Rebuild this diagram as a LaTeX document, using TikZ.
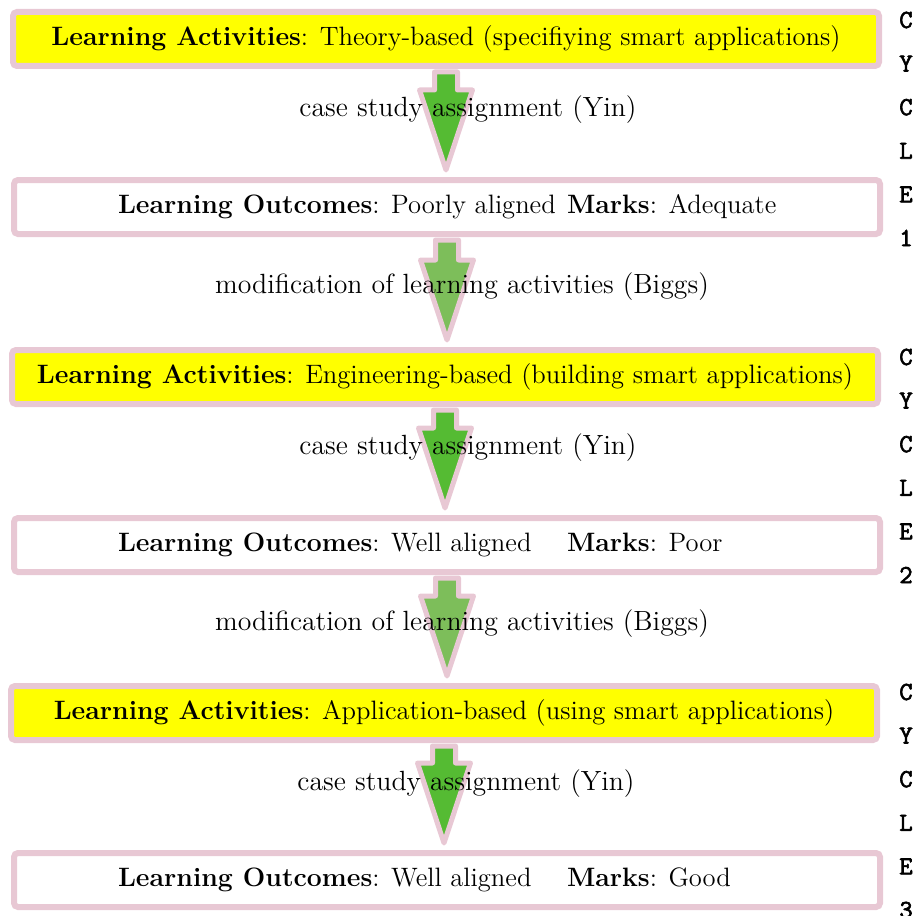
\documentclass[tikz,border=0pt]{standalone}
\usepackage{fontspec}
\newfontfamily\cyclefont{Latin Modern Mono}[FakeBold=2.5]
\usetikzlibrary{calc}

\definecolor{framepink}{RGB}{232,200,212}
\definecolor{boxyellow}{RGB}{255,255,0}
\definecolor{yingreen}{RGB}{85,187,51}
\definecolor{biggsgreen}{RGB}{125,190,90}

\newcommand{\outcomeline}[2]{\makebox[329pt][l]{\makebox[224.5pt][l]{\textbf{Learning Outcomes}: #1}\textbf{Marks}: #2}}

\begin{document}
\begin{tikzpicture}[x=0.5pt, y=-0.5pt,
    every node/.style={font=\fontsize{13.3}{15}\selectfont},
    activity/.style={draw=framepink, fill=boxyellow, line width=3pt, rounded corners=2pt, minimum width=433pt, minimum height=27pt, inner sep=0pt},
    outcome/.style={activity, fill=white},
    steplabel/.style={inner sep=0pt, font=\fontsize{13.9}{15}\selectfont},
    cycleletter/.style={font=\cyclefont\fontsize{13}{13}\selectfont, inner sep=0pt},
    flowarrow/.style={draw=framepink, line width=2.5pt, line join=round, fill=#1,
        to path={let \p1=(\tikztostart), \p2=(\tikztotarget) in
            (\x1-5.75pt,\y1-1.5pt) -- (\x1-5.75pt,\y2+43.5pt) -- (\x1-13.25pt,\y2+43.5pt)
            -- (\x1,\y2+3.5pt) -- (\x1+13.25pt,\y2+43.5pt) -- (\x1+5.75pt,\y2+43.5pt)
            -- (\x1+5.75pt,\y1-1.5pt) -- cycle}}
]
\useasboundingbox (0,0) rectangle (919,915);

% Boxes
\node[activity] (la1) at (446,39) {\textbf{Learning Activities}: Theory-based (specifiying smart applications)};
\node[outcome] (lo1) at (447,207) {\outcomeline{Poorly aligned}{Adequate}};
\node[activity] (la2) at (445,377) {\textbf{Learning Activities}: Engineering-based (building smart applications)};
\node[outcome] (lo2) at (447,545) {\outcomeline{Well aligned}{Poor}};
\node[activity] (la3) at (444,713) {\textbf{Learning Activities}: Application-based (using smart applications)};
\node[outcome] (lo3) at (447,880) {\outcomeline{Well aligned}{Good}};

% Arrows between boxes
\draw[flowarrow=yingreen] (la1.south) to (lo1.north);
\draw[flowarrow=biggsgreen] (lo1.south) to (la2.north);
\draw[flowarrow=yingreen] (la2.south) to (lo2.north);
\draw[flowarrow=biggsgreen] (lo2.south) to (la3.north);
\draw[flowarrow=yingreen] (la3.south) to (lo3.north);

% Arrow labels
\node[steplabel] (yin1) at (468,110) {case study assignment (Yin)};
\node[steplabel] (biggs1) at (462,287) {modification of learning activities (Biggs)};
\node[steplabel] (yin2) at (468,448) {case study assignment (Yin)};
\node[steplabel] (biggs2) at (462,624) {modification of learning activities (Biggs)};
\node[steplabel] (yin3) at (466,784) {case study assignment (Yin)};

% Cycle letters
\foreach \first/\num in {20/1, 357/2, 692/3}
  \foreach \ch [count=\i] in {C,Y,C,L,E,\num}
    \node[cycleletter] (cyc\num-\i) at (906,{\first+43.6*(\i-1)}) {\ch};

\end{tikzpicture}
\end{document}
